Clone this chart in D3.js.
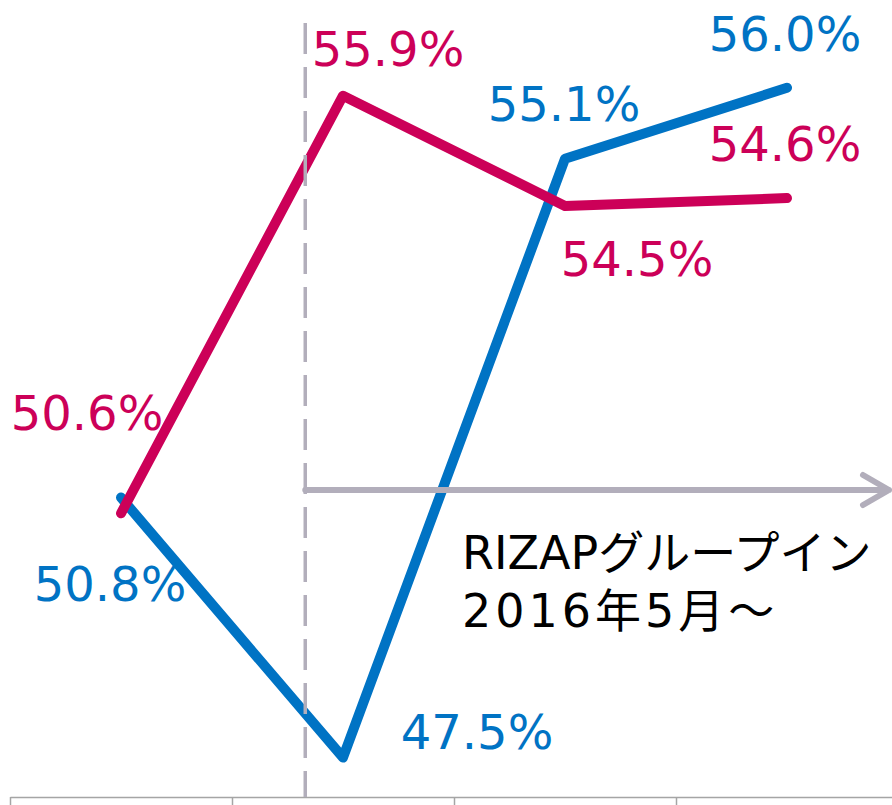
<!DOCTYPE html>
<html>
<head>
<meta charset="utf-8">
<script src="https://cdn.jsdelivr.net/npm/d3@7"></script>
<style>
  html, body { margin: 0; padding: 0; background: #fff; }
  svg { display: block; }
  text { font-family: "DejaVu Sans", "Noto Sans CJK JP", sans-serif; }
</style>
</head>
<body>
<div id="container"></div>
<script>
// Daten
const periods = ["P1", "P2", "P3", "P4"];
const blueValues = [50.8, 47.5, 55.1, 56.0];
const redValues = [50.6, 55.9, 54.5, 54.6];
const noteLines = ["RIZAPグループイン", "2016年5月～"];

const width = 892;
const height = 805;
const blue = "#0073c4";
const red = "#cc0058";
const grey = "#b2aebb";

// Label-Versatz (Pixel) relativ zum Punkt
const blueOffsets = [[-11, 103], [134, -9], [-1, -38], [-2, -37]];
const redOffsets = [[-34, -83], [45, -30], [72, 70], [-2, -37]];

const x = d3.scaleLinear()
  .domain([-0.5, periods.length - 0.5])
  .range([10, 898]);

const y = d3.scaleLinear()
  .domain([47, 57])
  .range([797, 9]);

const svg = d3.select("#container")
  .append("svg")
  .attr("width", width)
  .attr("height", height);

// x-Achse ohne Beschriftung, Ticks an den Grenzen
const axis = svg.append("g")
  .attr("transform", `translate(0,${y(47)})`)
  .call(d3.axisBottom(x)
    .tickValues(d3.range(-0.5, periods.length - 1, 1))
    .tickFormat("")
    .tickSize(9)
    .tickSizeOuter(0));
axis.selectAll("path, line").attr("stroke", "#a5a5a5").attr("stroke-width", 1.5);

const line = d3.line()
  .x((d, i) => x(i))
  .y(d => y(d));

// Linien
svg.append("path")
  .datum(blueValues)
  .attr("fill", "none")
  .attr("stroke", blue)
  .attr("stroke-width", 10)
  .attr("stroke-linecap", "round")
  .attr("stroke-linejoin", "round")
  .attr("d", line);

svg.append("path")
  .datum(redValues)
  .attr("fill", "none")
  .attr("stroke", red)
  .attr("stroke-width", 10)
  .attr("stroke-linecap", "round")
  .attr("stroke-linejoin", "round")
  .attr("d", line);

// gestrichelte Trennlinie
const markX = x(0.83);
svg.append("line")
  .attr("x1", markX).attr("x2", markX)
  .attr("y1", 23).attr("y2", 797)
  .attr("stroke", grey)
  .attr("stroke-width", 3.5)
  .attr("stroke-dasharray", "31 13");

// Pfeil
const arrowY = 490;
const arrowEnd = 889;
svg.append("path")
  .attr("d", `M${markX},${arrowY}H${arrowEnd}M${arrowEnd - 26},${arrowY - 15}L${arrowEnd},${arrowY}L${arrowEnd - 26},${arrowY + 15}`)
  .attr("fill", "none")
  .attr("stroke", grey)
  .attr("stroke-width", 6)
  .attr("stroke-linecap", "round")
  .attr("stroke-linejoin", "round");

// Werte
function labels(values, offsets, color) {
  svg.append("g")
    .selectAll("text")
    .data(values)
    .join("text")
    .attr("x", (d, i) => x(i) + offsets[i][0])
    .attr("y", (d, i) => y(d) + offsets[i][1])
    .attr("text-anchor", "middle")
    .attr("font-size", 48)
    .attr("fill", color)
    .text(d => d.toFixed(1) + "%");
}
labels(blueValues, blueOffsets, blue);
labels(redValues, redOffsets, red);

// Hinweistext
svg.append("g")
  .selectAll("text")
  .data(noteLines)
  .join("text")
  .attr("x", 462)
  .attr("y", (d, i) => 569 + i * 58)
  .attr("font-size", 46)
  .attr("letter-spacing", (d, i) => i === 1 ? 4 : 0)
  .attr("fill", "#000")
  .text(d => d);
</script>
</body>
</html>
